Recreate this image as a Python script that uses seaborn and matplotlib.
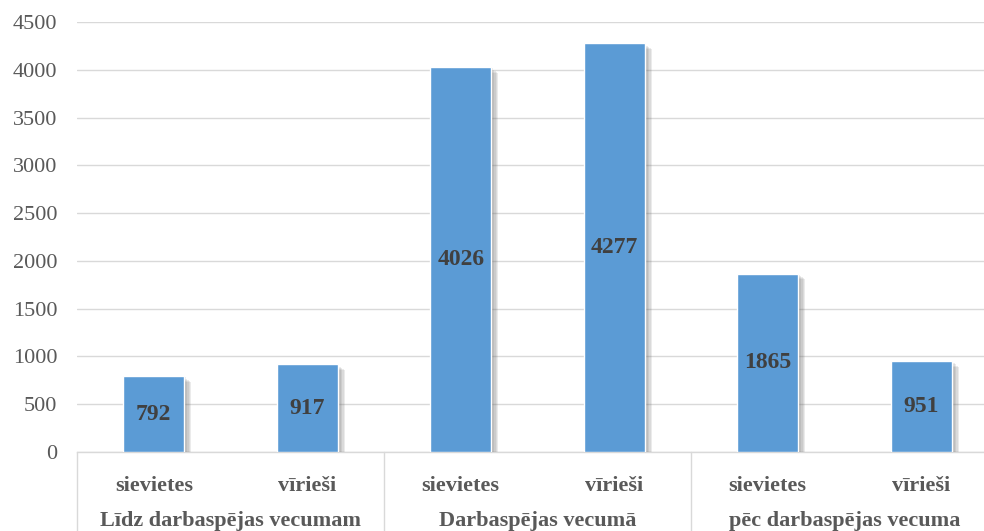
import matplotlib
matplotlib.use("Agg")
import matplotlib.pyplot as plt
import matplotlib.patheffects as pe
import matplotlib.transforms as mtransforms
import seaborn as sns
import pandas as pd

groups = ["Līdz darbaspējas vecumam", "Darbaspējas vecumā", "pēc darbaspējas vecuma"]
genders = ["sievietes", "vīrieši"]
values = [792, 917, 4026, 4277, 1865, 951]
yticks = [0, 500, 1000, 1500, 2000, 2500, 3000, 3500, 4000, 4500]

keys = [f"{g}|{s}" for g in groups for s in genders]
df = pd.DataFrame({"key": keys, "value": values})

sns.set_theme(style="white")
plt.rcParams["font.family"] = ["Liberation Serif", "DejaVu Serif"]

fig = plt.figure(figsize=(9.84, 5.31), dpi=100)
ax = fig.add_axes([77/984, 1-452/531, (998-77)/984, (452-22)/531])

sns.barplot(data=df, x="key", y="value", order=keys, color="#5B9BD5",
            saturation=1, width=0.40, ax=ax, zorder=3)

shadow = [pe.SimplePatchShadow(offset=(o, -o * 0.8), shadow_rgbFace="#606060", alpha=0.12)
          for o in (5, 4, 3, 2, 1)]
for p in ax.patches:
    p.set_path_effects(shadow + [pe.Normal()])

ax.set_ylim(0, 4500)
ax.set_yticks(yticks)
ax.set_yticklabels([str(t) for t in yticks], fontsize=16, color="#595959")
ax.set_xlim(-0.5, 5.5)
ax.set_xticks(range(6))
ax.set_xticklabels([k.split("|")[1] for k in keys], fontsize=16, color="#595959", fontweight="bold")
ax.tick_params(axis="x", length=0, pad=17)
ax.tick_params(axis="y", length=0, pad=14)
ax.set_xlabel("")
ax.set_ylabel("")
ax.yaxis.grid(True, color="#d9d9d9", linewidth=1)
ax.set_axisbelow(True)
for s in ["left", "right", "top"]:
    ax.spines[s].set_visible(False)
ax.spines["bottom"].set_color("#d9d9d9")
ax.spines["bottom"].set_linewidth(1)

# value labels centered in bars
for i, v in enumerate(values):
    ax.text(i, v / 2, str(v), ha="center", va="center", fontsize=17,
            fontweight="bold", color="#404040", zorder=5)

trans = mtransforms.blended_transform_factory(ax.transData, ax.transAxes)
for gi, g in enumerate(groups):
    ax.text(gi * 2 + 0.5, -0.161, g, transform=trans, ha="center", va="center",
            fontsize=16, fontweight="bold", color="#595959")
for xs in [-0.5, 1.5, 3.5, 5.5]:
    ax.plot([xs, xs], [0, -0.2], transform=trans, color="#d9d9d9", linewidth=1, clip_on=False)

fig.savefig("out.png", dpi=100)
